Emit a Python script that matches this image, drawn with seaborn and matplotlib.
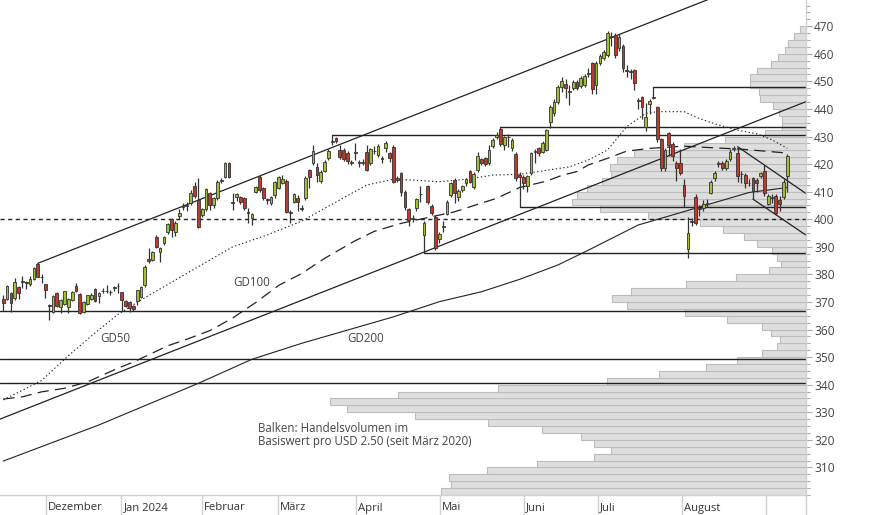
import numpy as np
import pandas as pd
import matplotlib
matplotlib.use("Agg")
import matplotlib.pyplot as plt
from matplotlib.lines import Line2D
from matplotlib.ticker import MultipleLocator
import seaborn as sns

sns.set_style("white")
plt.rcParams["font.family"] = ["Open Sans", "DejaVu Sans"]

# daily candles (trading-day index 0..205, mid Nov 2023 - Sep 2024)
opens = [
    371.0, 370.9, 373.1, 371.3, 375.5, 377.3, 377.2, 376.5, 378.2, 383.6, 379.1, 376.5,
    368.9, 366.5, 373.3, 368.3, 369.2, 368.3, 370.7, 375.8, 372.9, 366.5, 369.2, 371.2,
    374.6, 372.0, 373.8, 374.1, 373.5, 375.1, 375.7, 373.5, 370.3, 370.1, 368.5, 370.5,
    371.9, 376.1, 385.6, 385.2, 393.7, 388.2, 391.5, 395.5, 400.0, 395.5, 401.3, 404.3,
    404.8, 405.8, 412.0, 407.0, 401.5, 403.6, 409.4, 405.1, 407.6, 413.8, 415.2, 420.3,
    406.2, 407.9, 408.2, 407.6, 402.6, 400.3, 410.0, 415.2, 411.2, 407.2, 405.8, 408.8,
    411.2, 413.3, 414.0, 402.1, 406.4, 407.6,
    404.1, 407.6, 417.8, 420.3, 418.8, 414.0, 417.6, 422.1, 428.0, 429.3, 425.1, 425.1,
    424.1, 420.7, 424.0, 420.9, 420.4, 424.5, 420.3, 424.7, 423.3, 422.2, 425.7, 423.9,
    426.3, 414.8, 416.6, 410.0, 403.6,
    400.5, 403.9, 409.0, 394.3, 412.0, 404.8, 400.9, 392.7, 397.3, 401.9, 408.8, 414.2,
    408.2, 410.6, 413.0, 417.6, 411.8, 417.8, 421.7, 422.1, 420.3, 426.5, 430.0, 432.6,
    426.9, 429.8, 425.7, 423.6, 416.0, 415.4, 412.0, 416.6, 424.4, 425.7, 424.5, 425.1, 435.4, 438.6,
    442.6, 448.1, 449.0, 446.2, 447.5, 449.9, 448.3, 448.7, 452.5, 456.5, 448.7, 456.8,
    458.3, 459.6, 466.2, 466.8, 462.0, 462.8, 454.1, 453.6, 454.1, 443.1, 444.2, 433.6,
    441.8, 444.1, 440.6, 429.0, 418.4, 431.1, 427.3, 420.5, 420.5, 412.4, 389.1,
    399.3, 408.2, 404.0, 403.9, 405.6, 409.6, 414.8, 420.2, 420.3, 418.4, 421.7, 425.6,
    423.9, 416.5, 416.0, 413.3, 414.8, 414.4, 415.7, 417.6, 405.7, 408.0, 408.4, 406.9, 408.2, 415.7,
]
closes = [
    369.8, 375.7, 369.7, 377.1, 373.1, 377.6, 377.0, 378.2, 382.4, 379.2, 379.0, 374.3,
    368.6, 372.1, 368.5, 370.7, 373.9, 370.9, 373.7, 374.1, 365.9, 370.1, 372.5, 372.7,
    370.4, 373.1, 374.0, 374.0, 373.7, 375.3, 375.9, 370.7, 368.5, 367.7, 367.3, 374.2,
    375.5, 382.8, 384.8, 388.2, 390.0, 389.4, 393.7, 398.3, 396.1, 398.7, 402.4, 404.7,
    405.0, 409.6, 408.4, 397.3, 403.6, 410.8, 405.1, 407.6, 413.6, 414.2, 420.3, 415.2,
    405.8, 409.1, 406.4, 404.0, 402.2, 401.9, 411.6, 410.6, 407.6, 406.8, 408.2, 413.6,
    415.2, 414.5, 402.7, 402.7, 409.1, 406.4,
    403.8, 415.1, 415.2, 424.8, 416.0, 417.2, 420.9, 424.8, 428.3, 428.4, 422.7, 421.7,
    421.2, 420.3, 424.3, 420.3, 420.6, 417.8, 425.3, 424.9, 426.5, 422.0, 427.5, 422.1,
    413.6, 414.2, 410.0, 404.3, 399.7,
    400.1, 407.2, 409.3, 398.5, 406.4, 402.1, 389.4, 394.6, 397.7, 406.4, 413.0, 409.4,
    410.3, 412.0, 414.5, 413.6, 416.4, 422.9, 420.3, 420.0, 425.1, 428.7, 430.4, 427.3,
    429.7, 430.0, 428.9, 414.8, 415.4, 413.2, 415.7, 423.9, 424.6, 423.9, 427.7, 432.3, 440.8, 442.6,
    448.1, 450.2, 447.5, 446.5, 449.9, 447.7, 451.1, 451.9, 452.9, 447.1, 456.8, 459.2,
    460.8, 467.4, 466.6, 459.6, 466.2, 454.7, 453.7, 453.4, 449.5, 442.9, 440.6, 437.2,
    443.0, 444.3, 429.0, 418.4, 425.1, 426.9, 422.9, 418.4, 416.9, 408.4, 395.1,
    398.9, 398.7, 403.8, 405.5, 405.8, 413.6, 416.9, 420.4, 418.4, 421.2, 424.5, 425.8,
    415.7, 416.3, 413.2, 413.1, 410.3, 413.2, 416.6, 409.4, 408.5, 407.8, 402.1, 405.5, 413.6, 422.9,
]
highs = [
    372.5, 376.1, 373.7, 378.8, 375.8, 379.4, 377.7, 379.4, 382.8, 384.0, 380.0, 376.5,
    369.2, 372.5, 373.7, 371.0, 373.9, 371.3, 373.9, 377.0, 373.3, 370.3, 372.7, 373.3,
    374.9, 373.7, 374.9, 376.1, 374.5, 375.8, 377.0, 373.5, 370.7, 370.3, 368.9, 374.5,
    375.8, 383.5, 389.4, 388.5, 394.2, 390.0, 394.0, 398.8, 400.5, 399.3, 403.8, 405.8,
    406.2, 410.5, 413.5, 414.8, 404.0, 411.5, 410.0, 408.0, 414.2, 414.8, 420.6, 420.6,
    409.6, 409.6, 408.6, 408.2, 404.0, 402.3, 412.0, 416.0, 411.8, 407.8, 408.6, 414.0,
    415.8, 416.0, 414.5, 403.5, 409.6, 408.8,
    405.0, 415.5, 418.2, 427.0, 420.5, 418.0, 421.5, 425.5, 430.4, 429.8, 427.0, 425.8,
    424.8, 421.5, 427.5, 421.5, 421.8, 427.0, 425.8, 426.5, 427.2, 423.0, 428.3, 424.5,
    426.8, 415.5, 417.2, 410.5, 404.0,
    401.5, 407.6, 412.0, 399.5, 412.5, 405.5, 401.5, 395.5, 399.5, 407.0, 413.5, 414.8,
    411.0, 412.5, 415.0, 418.0, 417.0, 424.5, 422.3, 422.5, 427.0, 429.3, 431.5, 433.3,
    430.2, 430.9, 429.5, 424.2, 417.0, 416.0, 416.2, 424.5, 425.3, 426.2, 428.2, 432.8, 441.3, 443.5,
    448.5, 451.5, 450.8, 448.5, 450.5, 450.5, 451.8, 452.5, 454.8, 457.0, 457.3, 459.8,
    461.5, 468.2, 468.0, 467.5, 467.0, 463.5, 456.0, 454.5, 454.6, 444.0, 444.8, 442.0,
    443.5, 448.1, 441.2, 429.5, 426.0, 431.8, 428.0, 421.0, 425.5, 414.5, 400.9,
    400.5, 409.3, 405.0, 407.0, 407.5, 414.2, 417.5, 421.0, 421.0, 421.8, 425.5, 426.5,
    426.3, 417.5, 416.8, 414.5, 415.3, 415.0, 417.3, 419.5, 409.0, 409.0, 409.0, 408.5, 414.5, 423.8,
]
lows = [
    366.8, 370.7, 366.5, 370.7, 370.9, 374.9, 374.6, 375.8, 377.9, 378.9, 377.0, 371.3,
    363.4, 366.1, 368.2, 365.9, 368.9, 366.1, 370.4, 373.7, 365.6, 366.1, 368.9, 370.7,
    370.1, 369.5, 373.1, 373.3, 372.5, 374.1, 373.3, 366.8, 368.0, 366.5, 366.8, 368.9,
    371.5, 375.5, 384.0, 384.8, 389.5, 384.6, 390.8, 394.5, 393.5, 393.8, 400.2, 403.3,
    403.0, 405.3, 407.8, 396.7, 400.8, 403.0, 403.5, 404.0, 407.0, 413.0, 414.8, 414.8,
    403.3, 406.5, 405.5, 403.5, 398.5, 397.8, 409.5, 410.0, 406.8, 405.5, 405.0, 407.8,
    410.8, 412.8, 402.3, 398.5, 405.8, 403.0,
    403.0, 407.0, 411.5, 419.5, 413.5, 413.0, 417.0, 421.5, 426.9, 427.5, 422.0, 421.0,
    420.0, 419.5, 421.5, 419.0, 419.5, 417.5, 419.5, 423.5, 422.5, 420.5, 424.5, 420.8,
    413.0, 413.5, 408.5, 403.5, 397.5,
    399.1, 403.0, 406.4, 387.8, 405.5, 401.5, 389.0, 391.5, 395.5, 401.5, 408.0, 406.0,
    406.5, 409.8, 412.0, 413.0, 411.0, 417.2, 419.5, 419.3, 419.8, 425.8, 429.2, 426.5,
    425.0, 426.3, 424.8, 414.0, 404.5, 411.0, 410.0, 416.0, 420.3, 423.0, 424.0, 424.8, 433.0, 437.5,
    441.8, 446.0, 444.0, 441.5, 446.8, 447.0, 447.5, 448.0, 451.5, 445.5, 445.5, 456.0,
    457.8, 459.0, 463.0, 458.5, 461.0, 453.5, 451.5, 451.0, 447.0, 440.0, 436.5, 432.0,
    438.0, 443.5, 428.0, 417.5, 417.5, 423.0, 421.0, 414.0, 416.0, 404.5, 385.8,
    397.5, 397.8, 401.0, 403.0, 404.5, 409.0, 414.0, 419.0, 417.8, 417.8, 421.0, 424.8,
    413.5, 413.0, 411.5, 412.0, 407.3, 410.0, 415.0, 408.5, 405.0, 406.0, 401.5, 403.0, 407.5, 410.0,
]

# moving averages read at selected days (index, value)
gd50_idx = [0, 10, 17, 24, 30, 36, 48, 60, 69, 78, 88, 95, 102, 107, 114, 121, 128, 135,
            140, 148, 153, 158, 163, 168, 171, 178, 182, 187, 192, 197, 201, 205]
gd50_val = [334.5, 341.5, 350.5, 358.8, 365.5, 370.7, 380.4, 390.0, 394.3, 399.3, 407.0,
            412.4, 414.5, 414.2, 413.6, 414.5, 416.0, 416.3, 417.3, 419.0, 421.5, 425.1,
            433.6, 438.4, 439.0, 439.0, 436.5, 434.2, 432.3, 431.0, 428.8, 425.7]
gd100_idx = [0, 5, 10, 16, 22, 30, 34, 43, 48, 54, 60, 66, 72, 78, 84, 92, 97, 104, 118,
             122, 129, 135, 142, 146, 150, 153, 158, 163, 169, 178, 183, 193, 205]
gd100_val = [334.8, 335.6, 337.4, 338.7, 341.0, 346.0, 348.2, 354.1, 356.5, 359.6, 364.2,
             369.8, 376.0, 380.3, 385.8, 392.2, 395.6, 398.5, 402.7, 404.5, 407.6, 411.5,
             413.8, 415.9, 417.3, 419.7, 422.1, 424.7, 425.7, 426.5, 426.1, 425.4, 424.0]
gd200_idx = [0, 25, 51, 65, 78, 90, 102, 114, 125, 135, 145, 153, 166, 195, 205]
gd200_val = [312.3, 325.4, 340.5, 349.2, 355.0, 359.8, 364.6, 370.1, 373.7, 378.2, 383.4,
             388.8, 397.9, 409.7, 411.5]

# volume profile since March 2020, per USD 2.50 bin (lower edges 300 ... 467.5)
vol_bins = np.arange(300, 470, 2.5)
vol = [365, 355, 357, 319, 269, 212, 195, 212, 225, 264, 318, 391, 459, 476, 408, 308,
       199, 147, 100, 69, 44, 29, 26, 35, 44, 79, 121, 179, 194, 175, 120, 70,
       37, 25, 29, 34, 49, 62, 83, 106, 158, 206, 234, 229, 219, 204, 195, 196,
       189, 172, 122, 81, 41, 24, 24, 27, 33, 46, 47, 56, 56, 49, 35, 28,
       21, 18, 12, 6]

# support / resistance lines: (start index, price)
levels_full = [366.7, 349.2, 340.5]
levels_from = [(110, 387.8), (86, 430.4), (130, 433.3), (170, 448.1), (135, 404.5)]
# trend lines: (x0, y0, x1, y1)
trends = [(9, 384.0, 209.8, 493.6), (-0.9, 327.5, 209.8, 442.6),
          (192, 426.3, 209.8, 409.4), (196, 407.3, 209.8, 394.3)]

month_pos = [11.1, 30.9, 52.0, 71.9, 92.2, 114.2, 136.2, 155.5, 177.5, 199.4]
month_lab = ["Dezember", "Jan 2024", "Februar", "März", "April", "Mai", "Juni",
             "Juli", "August", ""]

df = pd.DataFrame({"o": opens, "h": highs, "l": lows, "c": closes})
df["i"] = np.arange(len(df))
vp = pd.DataFrame({"price": vol_bins + 1.25, "vol": vol})

W, H = 874, 515
fig = plt.figure(figsize=(W / 100, H / 100), dpi=100)
ax_r = 805.7 / W
ax = fig.add_axes([0, 20 / H, ax_r, 495 / H])
ax2 = ax.twiny()

# volume profile on twin axis, growing leftwards from the price axis
sns.histplot(data=vp, y="price", weights="vol", binwidth=2.5, binrange=(300, 470),
             color="#dedede", edgecolor="#bcbcbc", linewidth=0.8, alpha=1, ax=ax2)
ax2.set_xlim(805.7, 0)
ax2.xaxis.set_visible(False)
for s in ax2.spines.values():
    s.set_visible(False)
ax.set_zorder(ax2.get_zorder() + 1)
ax.patch.set_visible(False)

dark = "#222222"
# levels
for lv in levels_full:
    ax.axhline(lv, color=dark, lw=1.0, zorder=2)
ax.axhline(400, color=dark, lw=1.0, ls=(0, (3, 2.5)), zorder=2)
for i0, lv in levels_from:
    ax.plot([i0, 209.8], [lv, lv], color=dark, lw=1.0, zorder=2)
for x0, y0, x1, y1 in trends:
    ax.plot([x0, x1], [y0, y1], color=dark, lw=0.9, zorder=2)

# moving averages
sns.lineplot(x=gd50_idx, y=gd50_val, ax=ax, color=dark, lw=0.8, ls=(0, (1.2, 2.2)), zorder=2)
sns.lineplot(x=gd100_idx, y=gd100_val, ax=ax, color=dark, lw=0.9, ls=(0, (9, 5)), zorder=2)
sns.lineplot(x=gd200_idx, y=gd200_val, ax=ax, color=dark, lw=0.8, zorder=2)

# candles
up = df["c"] >= df["o"]
ax.vlines(df["i"], df["l"], df["h"], color="#333333", lw=0.9, zorder=3)
body = (df["c"] - df["o"]).abs().clip(lower=0.12)
ax.bar(df["i"], body, bottom=df[["o", "c"]].min(axis=1), width=0.72,
       color=np.where(up, "#a2c035", "#c0392b"), edgecolor="#333333", linewidth=0.6,
       zorder=4)

# labels inside chart
txt = dict(color="#444444", fontsize=8.3, va="center", ha="left")
ax.text(60.1, 377.2, "GD100", **txt)
ax.text(25.3, 356.9, "GD50", **txt)
ax.text(89.9, 356.9, "GD200", **txt)
ax.text(66.6, 324.0, "Balken: Handelsvolumen im", **txt)
ax.text(66.6, 319.3, "Basiswert pro USD 2.50 (seit März 2020)", **txt)

ax.set_xlim(-0.86, 209.8)
ax.set_ylim(300, 479.5)
ax.set_xlabel("")
ax.set_ylabel("")
ax2.set_ylabel("")

# right price axis
ax.yaxis.tick_right()
ax.set_yticks(np.arange(310, 471, 10))
ax.yaxis.set_minor_locator(MultipleLocator(2.5))
ax.tick_params(axis="y", which="major", length=4, width=0.8, color="#aaaaaa",
               labelsize=8.6, labelcolor="#444444", pad=2)
ax.tick_params(axis="y", which="minor", length=3, width=0.8, color="#aaaaaa")

# month separators below the chart
ax.set_xticks(month_pos)
ax.set_xticklabels([])
ax.tick_params(axis="x", which="major", length=14.5, width=1, color="#d0d0d0")
for p, lab in zip(month_pos, month_lab):
    ax.annotate(lab, xy=(p, 0), xycoords=("data", "axes fraction"),
                xytext=(2, -13), textcoords="offset pixels",
                ha="left", va="center", fontsize=8.1, color="#333333")

for side in ["top", "left", "right"]:
    ax.spines[side].set_visible(False)
ax.spines["bottom"].set_color("#d0d0d0")
ax.spines["bottom"].set_linewidth(1)
fig.add_artist(Line2D([ax_r, ax_r], [0, 1], transform=fig.transFigure,
                      color="#d0d0d0", lw=1))

fig.savefig("out.png", dpi=100)
